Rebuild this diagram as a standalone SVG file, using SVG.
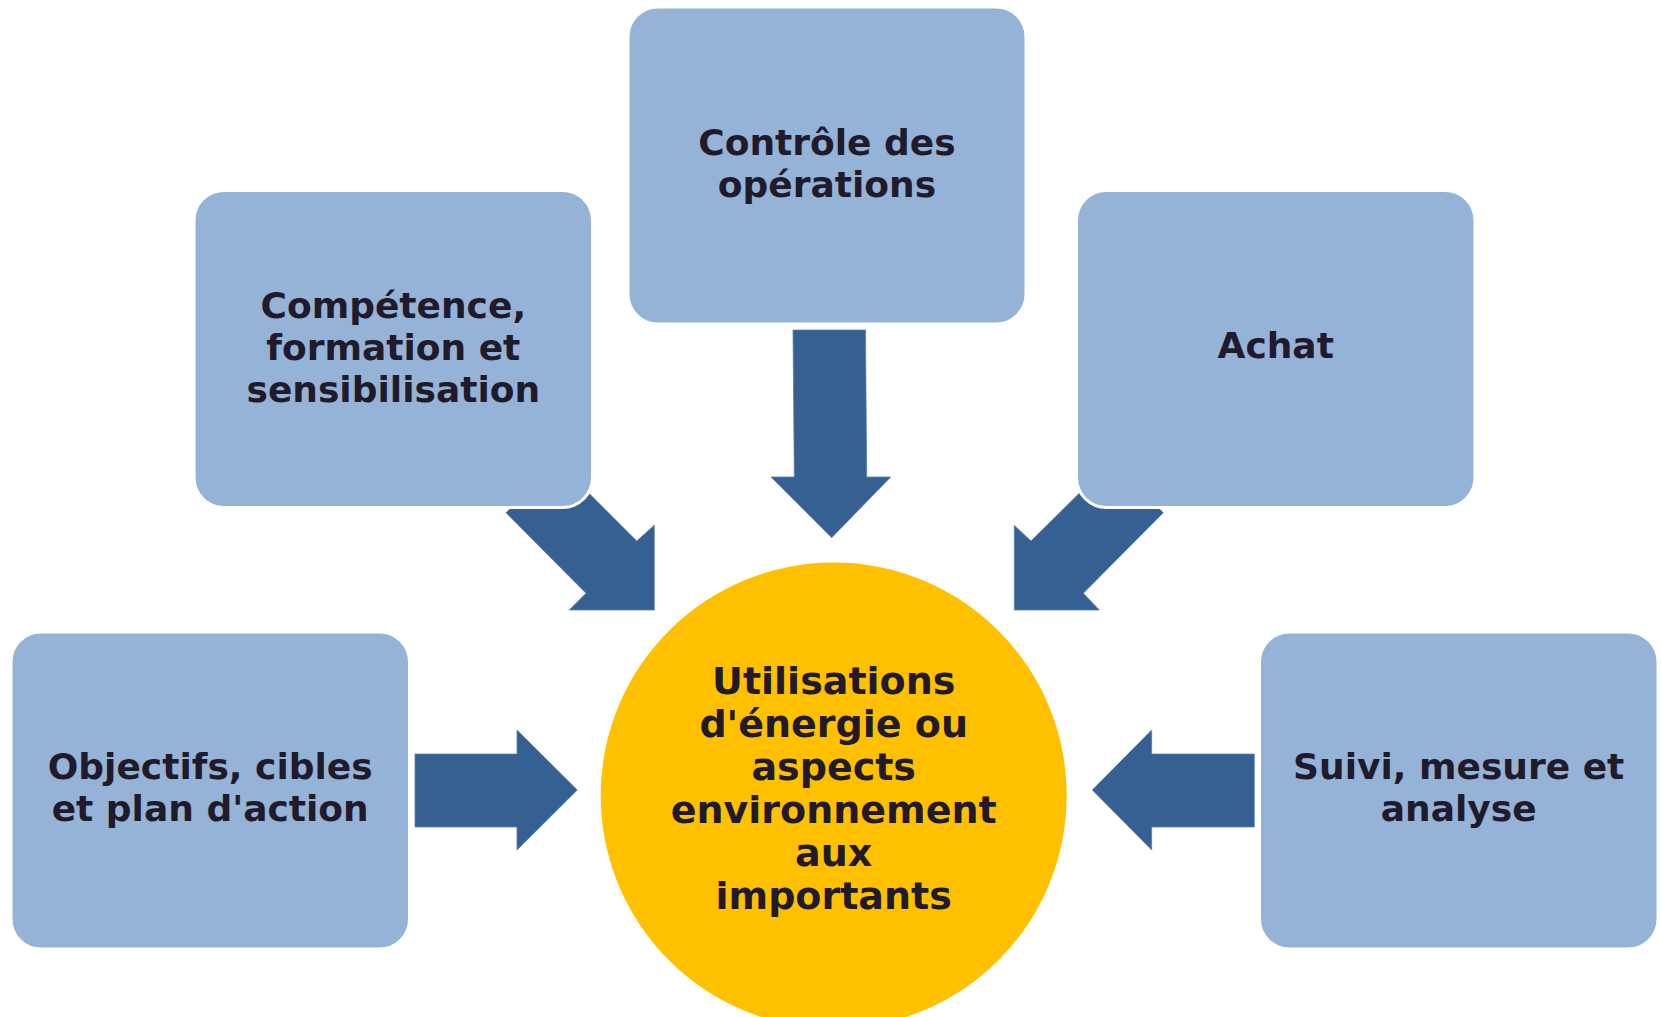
<svg xmlns="http://www.w3.org/2000/svg" width="1661" height="1017" viewBox="0 0 1661 1017">
<style>
.box{fill:#95B3D7;stroke:#FFFFFF;stroke-width:3}
.arrow{fill:#376092;stroke:#5A7FAD;stroke-width:0.8}
.hub{fill:#FFC000}
.t{font-family:"DejaVu Sans","Liberation Sans",sans-serif;font-weight:bold;font-size:36px;fill:#211A2A;text-anchor:middle}
.th{font-size:38px}
</style>
<rect width="1661" height="1017" fill="#FFFFFF"/>
<g id="connectors">
<polygon class="arrow" points="793,330 865.5,330 866.7,477 890.7,477 831.7,537.7 771,477 794.3,477"/>
<polygon class="arrow" points="415,754 517,754 517,730 577.3,790 517,850 517,827 415,827"/>
<polygon class="arrow" points="1254.3,754 1151.7,754 1151.7,730 1092.3,790 1151.7,850 1151.7,827 1254.3,827"/>
<polygon class="arrow" points="506,512.7 557.2,461.5 636.7,541 654.3,525.3 654.3,610 569.3,610 586,593.3"/>
<polygon class="arrow" points="1163.3,512.7 1111.4,461.5 1031,541 1014.3,525.3 1014.3,610 1099.3,610 1083.3,593.3"/>
</g>
<g id="hub">
<circle class="hub" cx="833.7" cy="795.5" r="233"/>
<text class="t th"><tspan x="833.7" y="694">Utilisations</tspan><tspan x="833.7" y="737">d'énergie ou</tspan><tspan x="833.7" y="780">aspects</tspan><tspan x="833.7" y="823">environnement</tspan><tspan x="833.7" y="866">aux</tspan><tspan x="833.7" y="909">importants</tspan></text>
</g>
<g id="node-controle">
<rect class="box" x="628" y="7" width="398" height="317" rx="30"/>
<text class="t"><tspan x="827" y="155">Contrôle des</tspan><tspan x="827" y="197">opérations</tspan></text>
</g>
<g id="node-competence">
<rect class="box" x="194" y="190.5" width="398.5" height="317" rx="30"/>
<text class="t"><tspan x="393.3" y="318">Compétence,</tspan><tspan x="393.3" y="360">formation et</tspan><tspan x="393.3" y="402">sensibilisation</tspan></text>
</g>
<g id="node-achat">
<rect class="box" x="1076.5" y="190.5" width="398.5" height="317" rx="30"/>
<text class="t"><tspan x="1275.7" y="358">Achat</tspan></text>
</g>
<g id="node-objectifs">
<rect class="box" x="11" y="632" width="398.5" height="317" rx="30"/>
<text class="t"><tspan x="210.2" y="779">Objectifs, cibles</tspan><tspan x="210.2" y="821">et plan d'action</tspan></text>
</g>
<g id="node-suivi">
<rect class="box" x="1259.5" y="632" width="398.5" height="317" rx="30"/>
<text class="t"><tspan x="1458.7" y="779">Suivi, mesure et</tspan><tspan x="1458.7" y="821">analyse</tspan></text>
</g>
</svg>
